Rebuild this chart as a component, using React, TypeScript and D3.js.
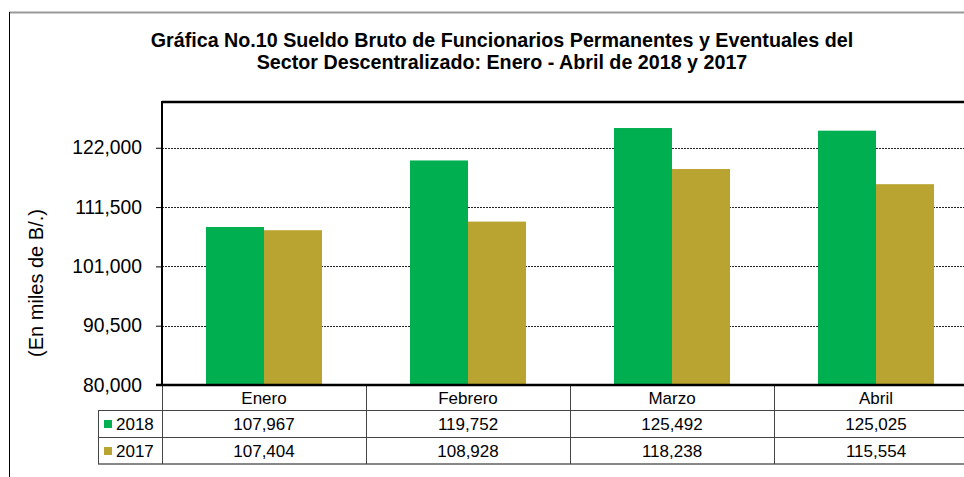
import React, { useEffect, useRef } from 'react';
import * as d3 from 'd3';

const months = ['Enero', 'Febrero', 'Marzo', 'Abril'];
const values2018 = [107967, 119752, 125492, 125025];
const values2017 = [107404, 108928, 118238, 115554];
const yTicks = [80000, 90500, 101000, 111500, 122000];
const seriesNames = ['2018', '2017'];
const seriesColors = ['#00B050', '#B9A431'];

const titleLines = [
  'Gráfica No.10 Sueldo Bruto de Funcionarios Permanentes y Eventuales del',
  'Sector Descentralizado: Enero - Abril de 2018 y 2017',
];

const App = () => {
  const svgRef = useRef<SVGSVGElement>(null);

  useEffect(() => {
    document.body.style.margin = '0';
    document.body.style.overflow = 'hidden';

    const svg = d3.select(svgRef.current);
    svg.selectAll('*').remove();

    const W = 964;
    const H = 477;
    const font = '"Liberation Sans", Arial, sans-serif';

    svg.attr('width', W).attr('height', H).style('font-family', font);

    // outer chart border (cropped)
    svg.append('line')
      .attr('x1', 9).attr('x2', W).attr('y1', 12.5).attr('y2', 12.5)
      .attr('stroke', '#999').attr('stroke-width', 2);
    svg.append('line')
      .attr('x1', 9.5).attr('x2', 9.5).attr('y1', 12).attr('y2', H)
      .attr('stroke', '#000').attr('stroke-width', 1);

    // title
    svg.append('g').selectAll('text')
      .data(titleLines)
      .enter()
      .append('text')
      .attr('x', 502)
      .attr('y', (d, i) => 47 + i * 22)
      .attr('text-anchor', 'middle')
      .style('font-size', '19.7px')
      .style('font-weight', 'bold')
      .text(d => d);

    const left = 162;
    const top = 102;
    const bottom = 385;
    const bandW = 204;

    const x = d3.scaleBand()
      .domain(months)
      .range([left, left + bandW * months.length])
      .paddingInner(0)
      .paddingOuter(0);

    const y = d3.scaleLinear()
      .domain([80000, 130100])
      .range([bottom, top]);

    const inner = d3.scaleBand()
      .domain(seriesNames)
      .range([44, bandW - 44]);

    // gridlines
    svg.append('g').selectAll('line')
      .data(yTicks.slice(1))
      .enter()
      .append('line')
      .attr('x1', left).attr('x2', W)
      .attr('y1', d => Math.round(y(d)) + 0.5).attr('y2', d => Math.round(y(d)) + 0.5)
      .attr('stroke', '#222')
      .attr('stroke-width', 1)
      .attr('stroke-dasharray', '2,1');

    // bars
    const series = [values2018, values2017];
    series.forEach((vals, si) => {
      svg.append('g').selectAll('rect')
        .data(vals)
        .enter()
        .append('rect')
        .attr('x', (d, i) => (x(months[i]) as number) + (inner(seriesNames[si]) as number))
        .attr('width', inner.bandwidth())
        .attr('y', d => y(d))
        .attr('height', d => bottom - y(d))
        .attr('fill', seriesColors[si]);
    });

    // plot frame: top, left axis
    svg.append('line')
      .attr('x1', left).attr('x2', W).attr('y1', top).attr('y2', top)
      .attr('stroke', '#000').attr('stroke-width', 2.5);
    svg.append('line')
      .attr('x1', left).attr('x2', left).attr('y1', top - 1).attr('y2', bottom)
      .attr('stroke', '#000').attr('stroke-width', 2);

    // y axis ticks and labels
    const yAxis = svg.append('g').attr('transform', `translate(${left},0)`)
      .call(d3.axisLeft(y).tickValues(yTicks).tickSize(6).tickPadding(14)
        .tickFormat(d => d3.format(',')(d as number)));
    yAxis.select('.domain').remove();
    yAxis.selectAll('.tick line').attr('stroke', '#000').attr('stroke-width', 1);
    yAxis.selectAll('.tick text')
      .style('font-size', '19.3px')
      .style('font-family', font)
      .attr('fill', '#000');

    // y axis title
    svg.append('text')
      .attr('transform', 'translate(43,283) rotate(-90)')
      .attr('text-anchor', 'middle')
      .style('font-size', '20px')
      .text('(En miles de B/.)');

    // data table
    const rowH = [385, 410, 437, 464];
    const table = svg.append('g');
    const gridStroke = '#444';

    // horizontal rules
    table.append('line')
      .attr('x1', 98).attr('x2', W).attr('y1', rowH[1] + 0.5).attr('y2', rowH[1] + 0.5)
      .attr('stroke', gridStroke).attr('stroke-width', 1);
    table.append('line')
      .attr('x1', 98).attr('x2', W).attr('y1', rowH[2] + 0.5).attr('y2', rowH[2] + 0.5)
      .attr('stroke', gridStroke).attr('stroke-width', 1);
    table.append('line')
      .attr('x1', 98).attr('x2', W).attr('y1', rowH[3]).attr('y2', rowH[3])
      .attr('stroke', '#888').attr('stroke-width', 2);

    // vertical rules
    const vx = [left, ...months.slice(1).map(m => x(m) as number)];
    table.selectAll('line.v')
      .data(vx)
      .enter()
      .append('line')
      .attr('class', 'v')
      .attr('x1', d => d + 0.5).attr('x2', d => d + 0.5)
      .attr('y1', rowH[0]).attr('y2', rowH[3])
      .attr('stroke', gridStroke).attr('stroke-width', 1);
    table.append('line')
      .attr('x1', 98.5).attr('x2', 98.5).attr('y1', rowH[1]).attr('y2', rowH[3])
      .attr('stroke', gridStroke).attr('stroke-width', 1);

    // bottom axis line (drawn over)
    svg.append('line')
      .attr('x1', left - 6).attr('x2', W).attr('y1', bottom).attr('y2', bottom)
      .attr('stroke', '#000').attr('stroke-width', 2.5);

    // header: month names
    table.selectAll('text.m')
      .data(months)
      .enter()
      .append('text')
      .attr('class', 'm')
      .attr('x', d => (x(d) as number) + x.bandwidth() / 2)
      .attr('y', 404)
      .attr('text-anchor', 'middle')
      .style('font-size', '17px')
      .text(d => d);

    // value rows
    series.forEach((vals, si) => {
      const yy = si === 0 ? 430 : 457;
      table.selectAll(`text.r${si}`)
        .data(vals)
        .enter()
        .append('text')
        .attr('class', `r${si}`)
        .attr('x', (d, i) => (x(months[i]) as number) + x.bandwidth() / 2)
        .attr('y', yy)
        .attr('text-anchor', 'middle')
        .style('font-size', '17px')
        .text(d => d3.format(',')(d));

      table.append('rect')
        .attr('x', 104).attr('y', yy - 10)
        .attr('width', 8).attr('height', 8)
        .attr('fill', seriesColors[si]);
      table.append('text')
        .attr('x', 116).attr('y', yy)
        .style('font-size', '17px')
        .text(seriesNames[si]);
    });
  }, []);

  return (
    <div>
      <svg ref={svgRef} style={{ display: 'block' }}></svg>
    </div>
  );
};

export default App;
